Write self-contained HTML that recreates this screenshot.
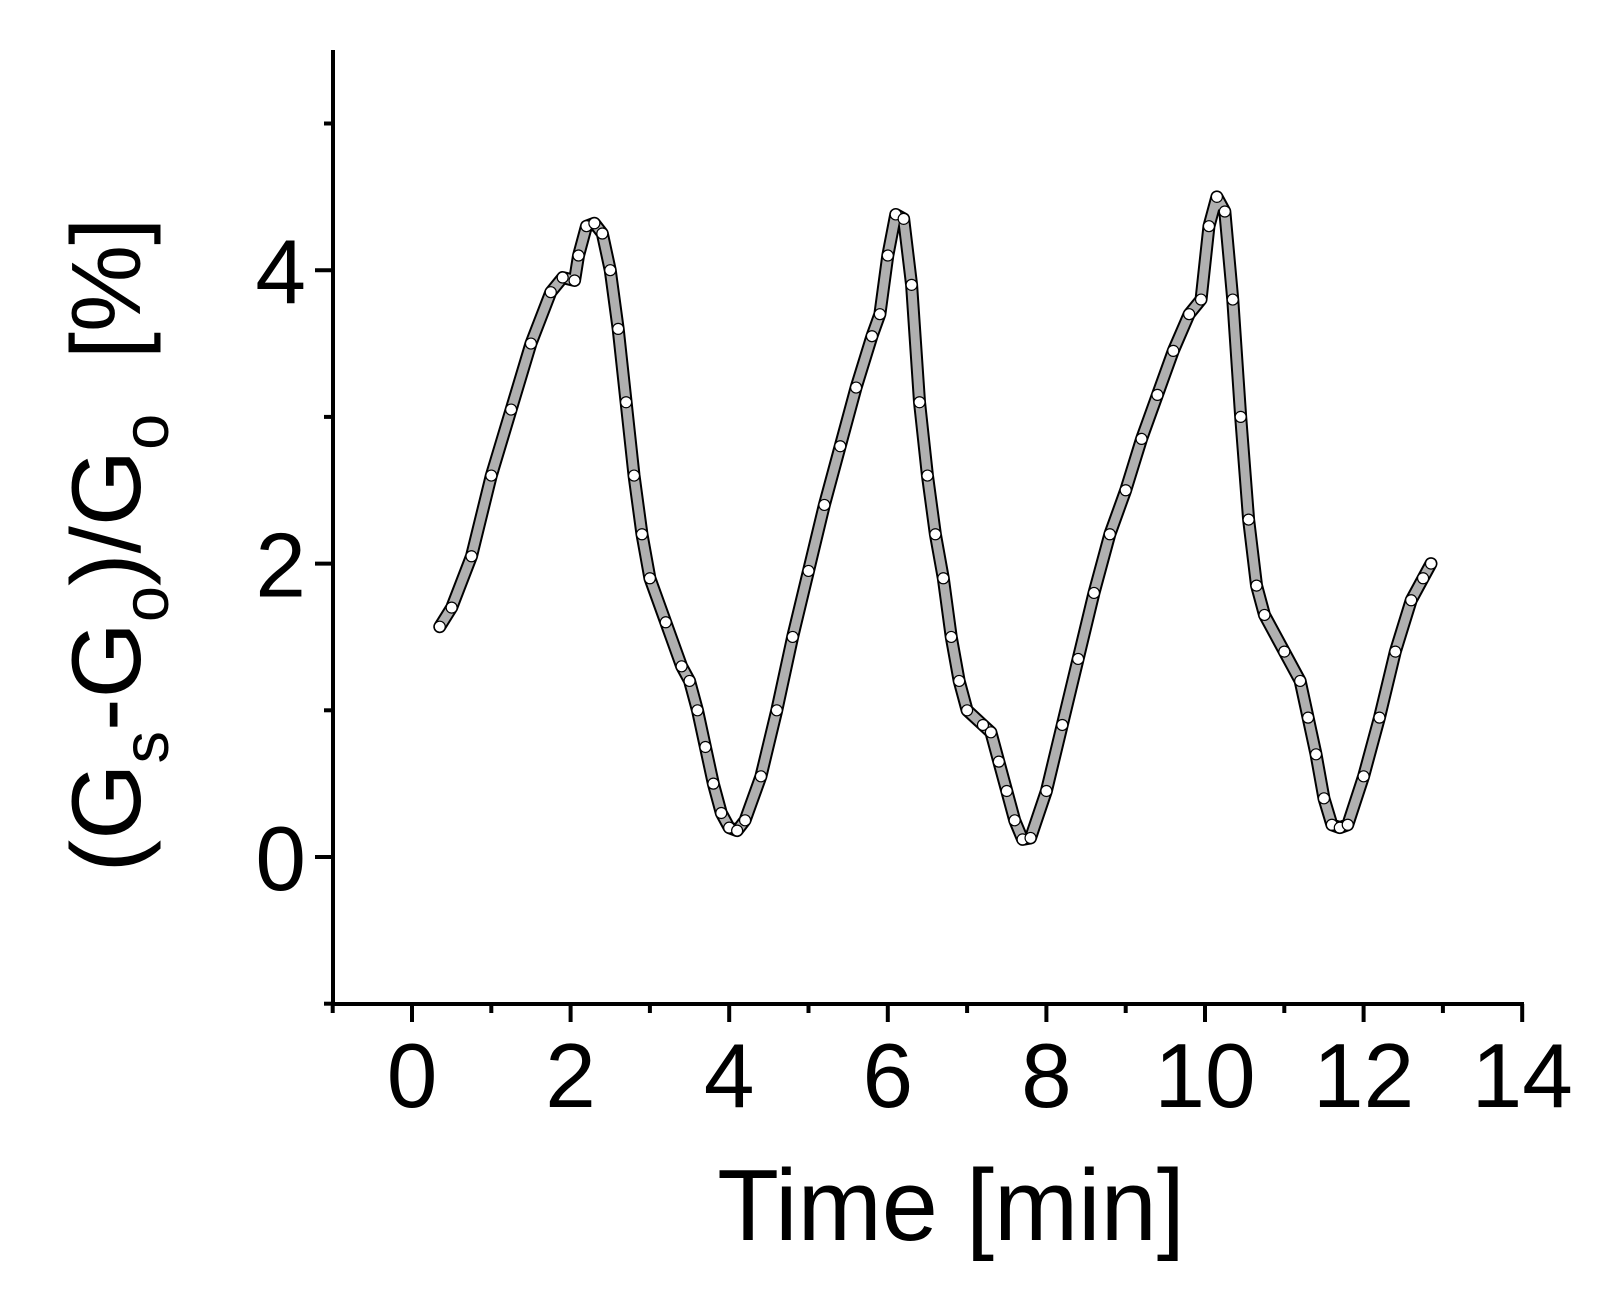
<!DOCTYPE html>
<html><head><meta charset="utf-8"><title>Sensor response</title>
<style>html,body{margin:0;padding:0;background:#fff}svg{display:block}</style></head>
<body>
<svg id="chart" width="1604" height="1295" viewBox="0 0 1604 1295" xmlns="http://www.w3.org/2000/svg" font-family="Liberation Sans, Arial, sans-serif">
<g id="axes"></g>
<g id="series"></g>
<text x="951" y="1240" font-size="101" text-anchor="middle">Time [min]</text>
<text transform="translate(140,545) rotate(-90)" font-size="98" text-anchor="middle">(G<tspan font-size="65" dy="28">s</tspan><tspan dy="-28">-G</tspan><tspan font-size="65" dy="28">o</tspan><tspan dy="-28">)/G</tspan><tspan font-size="65" dy="28">o</tspan><tspan dy="-28" xml:space="preserve">  [%]</tspan></text>
</svg>
<script>
const times = [0.35,0.5,0.75,1.0,1.25,1.5,1.75,1.9,2.05,2.1,2.2,2.3,2.4,2.5,2.6,2.7,2.8,2.9,3.0,3.2,3.4,3.5,3.6,3.7,3.8,3.9,4.0,4.1,4.2,4.4,4.6,4.8,5.0,5.2,5.4,5.6,5.8,5.9,6.0,6.1,6.2,6.3,6.4,6.5,6.6,6.7,6.8,6.9,7.0,7.2,7.3,7.4,7.5,7.6,7.7,7.8,8.0,8.2,8.4,8.6,8.8,9.0,9.2,9.4,9.6,9.8,9.95,10.05,10.15,10.25,10.35,10.45,10.55,10.65,10.75,11.0,11.2,11.3,11.4,11.5,11.6,11.7,11.8,12.0,12.2,12.4,12.6,12.75,12.85];
const values = [1.57,1.7,2.05,2.6,3.05,3.5,3.85,3.95,3.93,4.1,4.3,4.32,4.25,4.0,3.6,3.1,2.6,2.2,1.9,1.6,1.3,1.2,1.0,0.75,0.5,0.3,0.2,0.18,0.25,0.55,1.0,1.5,1.95,2.4,2.8,3.2,3.55,3.7,4.1,4.38,4.35,3.9,3.1,2.6,2.2,1.9,1.5,1.2,1.0,0.9,0.85,0.65,0.45,0.25,0.12,0.13,0.45,0.9,1.35,1.8,2.2,2.5,2.85,3.15,3.45,3.7,3.8,4.3,4.5,4.4,3.8,3.0,2.3,1.85,1.65,1.4,1.2,0.95,0.7,0.4,0.22,0.2,0.22,0.55,0.95,1.4,1.75,1.9,2.0];
const xTicks = [-1,0,1,2,3,4,5,6,7,8,9,10,11,12,13,14];
const xLabels = ["0","2","4","6","8","10","12","14"];
const yTicks = [-1,0,1,2,3,4,5];
const yLabels = ["0","2","4"];

const NS = "http://www.w3.org/2000/svg";
const X = v => 412 + v * 79.3;
const Y = v => 857 - v * 146.7;
function mk(tag, attrs, parent){const e=document.createElementNS(NS,tag);for(const k in attrs)e.setAttribute(k,attrs[k]);parent.appendChild(e);return e;}
const axes = document.getElementById('axes');
let l = mk('line',{x1:333,y1:50,x2:333,y2:1006,stroke:'#000','stroke-width':4},axes);


l = mk('line',{x1:331,y1:1004,x2:1524,y2:1004,stroke:'#000','stroke-width':4},axes);


xTicks.forEach(t=>{
  const major = t>=0 && t%2===0;
  const e = mk('line',{x1:X(t),y1:1004,x2:X(t),y2:1004+(major?18:9),stroke:'#000','stroke-width':4},axes);
  
  
});
xLabels.forEach(s=>{
  const e = mk('text',{x:X(+s),y:1107,'font-size':91,'text-anchor':'middle'},axes);
  e.textContent = s;
  
  
});
yTicks.forEach(t=>{
  const major = t>=0 && t%2===0;
  const e = mk('line',{x1:333-(major?18:9),y1:Y(t),x2:333,y2:Y(t),stroke:'#000','stroke-width':4},axes);
  
  
});
yLabels.forEach(s=>{
  const e = mk('text',{x:306,y:Y(+s)+33,'font-size':91,'text-anchor':'end'},axes);
  e.textContent = s;
  
  
});
const series = document.getElementById('series');
const pts = times.map((t,i)=>X(t)+','+Y(values[i])).join(' ');
let p = mk('polyline',{points:pts,fill:'none',stroke:'#000','stroke-width':13,'stroke-linejoin':'round','stroke-linecap':'round'},series);


p = mk('polyline',{points:pts,fill:'none',stroke:'#b0b0b0','stroke-width':9,'stroke-linejoin':'round','stroke-linecap':'round'},series);


times.forEach((t,i)=>{
  const c = mk('circle',{cx:X(t),cy:Y(values[i]),r:5.5,fill:'#fff',stroke:'#000','stroke-width':1.2},series);
  
  
});
</script>
</body></html>
